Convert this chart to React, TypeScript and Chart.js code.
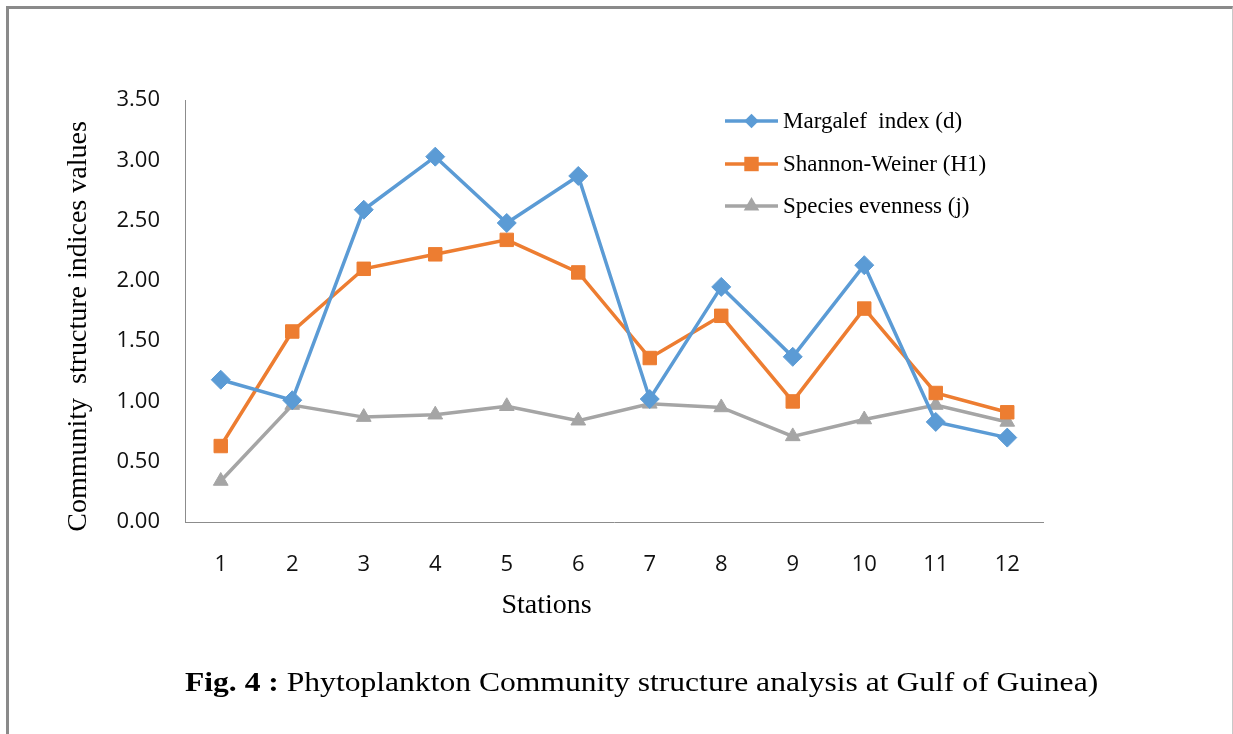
import React, { useEffect, useRef } from 'react';
import { Chart, registerables } from 'chart.js';

Chart.register(...registerables);

// ---- Data ----
const stations = ['1', '2', '3', '4', '5', '6', '7', '8', '9', '10', '11', '12'];
const margalef = [1.18, 1.01, 2.59, 3.03, 2.48, 2.87, 1.02, 1.95, 1.37, 2.13, 0.83, 0.70];
const shannon = [0.63, 1.58, 2.10, 2.22, 2.34, 2.07, 1.36, 1.71, 1.0, 1.77, 1.07, 0.91];
const evenness = [0.34, 0.97, 0.87, 0.89, 0.96, 0.84, 0.98, 0.95, 0.71, 0.85, 0.97, 0.83];
const seriesNames = ['Margalef  index (d)', 'Shannon-Weiner (H1)', 'Species evenness (j)'];
const yAxisTitle = 'Community  structure indices values';
const xAxisTitle = 'Stations';
const captionBold = 'Fig. 4 :';
const captionText = ' Phytoplankton Community structure analysis at Gulf of Guinea)';

const COLORS = ['#5B9BD5', '#ED7D31', '#A5A5A5'];
const STYLES = ['rectRot', 'rect', 'triangle'];
const RADII = [9.5, 9.5, 8.5];
const SERIF = '"Liberation Serif", "Times New Roman", serif';
const SANS = '"Open Sans", "Noto Sans", sans-serif';

function drawMarker(ctx: CanvasRenderingContext2D, style: string, x: number, y: number, r: number, color: string) {
  ctx.save();
  ctx.fillStyle = color;
  ctx.beginPath();
  if (style === 'rectRot') {
    const s = r * Math.SQRT1_2;
    ctx.moveTo(x - s - 0.5, y);
    ctx.lineTo(x, y - s - 0.5);
    ctx.lineTo(x + s + 0.5, y);
    ctx.lineTo(x, y + s + 0.5);
  } else if (style === 'rect') {
    const s = r * Math.SQRT1_2 + 0.5;
    ctx.rect(x - s, y - s, 2 * s, 2 * s);
  } else {
    const rr = r + 0.5;
    for (let k = 0; k < 3; k++) {
      const a = (k * 2 * Math.PI) / 3;
      const px = x + Math.sin(a) * rr;
      const py = y - Math.cos(a) * rr;
      if (k === 0) ctx.moveTo(px, py);
      else ctx.lineTo(px, py);
    }
  }
  ctx.closePath();
  ctx.fill();
  ctx.restore();
}

const overlayPlugin = {
  id: 'overlayPlugin',
  afterDraw(chart: any) {
    const ctx: CanvasRenderingContext2D = chart.ctx;
    // Legend inside plot area
    const rows = [121, 164, 206];
    chart.data.datasets.forEach((ds: any, i: number) => {
      const y = rows[i];
      ctx.save();
      ctx.strokeStyle = ds.borderColor;
      ctx.lineWidth = 3.5;
      ctx.beginPath();
      ctx.moveTo(725, y);
      ctx.lineTo(778, y);
      ctx.stroke();
      ctx.restore();
      drawMarker(ctx, STYLES[i], 751.5, y, RADII[i], ds.borderColor);
      ctx.save();
      ctx.fillStyle = '#000';
      ctx.font = `23px ${SERIF}`;
      ctx.textAlign = 'left';
      ctx.textBaseline = 'middle';
      ctx.fillText(ds.label, 783, y + 1);
      ctx.restore();
    });
    // Axis titles
    ctx.save();
    ctx.fillStyle = '#000';
    ctx.font = `28px ${SERIF}`;
    ctx.textAlign = 'center';
    ctx.textBaseline = 'middle';
    ctx.fillText(xAxisTitle, 546.5, 606);
    ctx.translate(79, 326.5);
    ctx.rotate(-Math.PI / 2);
    ctx.fillText(yAxisTitle, 0, 0);
    ctx.restore();
  },
};

export default function App() {
  const canvasRef = useRef<HTMLCanvasElement | null>(null);

  useEffect(() => {
    if (!canvasRef.current) return;
    const series = [margalef, shannon, evenness];
    const chart = new Chart(canvasRef.current, {
      type: 'line',
      data: {
        labels: stations,
        datasets: series.map((vals, i) => ({
          label: seriesNames[i],
          data: vals,
          borderColor: COLORS[i],
          backgroundColor: COLORS[i],
          borderWidth: 3.5,
          pointStyle: STYLES[i] as any,
          pointRadius: RADII[i],
          pointBackgroundColor: COLORS[i],
          pointBorderColor: COLORS[i],
          pointBorderWidth: 1,
          tension: 0,
          fill: false,
        })),
      },
      options: {
        responsive: false,
        animation: false,
        layout: { padding: { left: 100, top: 100, right: 190, bottom: 0 } },
        plugins: {
          legend: { display: false },
          tooltip: { enabled: false },
          title: { display: false },
        },
        scales: {
          x: {
            type: 'category',
            offset: true,
            grid: { display: false, drawTicks: false },
            border: { display: true, color: '#8c8c8c', width: 1 },
            ticks: { color: '#111', font: { family: SANS, size: 22 }, padding: 30, maxRotation: 0 },
            afterFit: (scale: any) => {
              scale.height = 212;
            },
          },
          y: {
            min: 0,
            max: 3.5,
            grid: { display: false, drawTicks: false },
            border: { display: true, color: '#8c8c8c', width: 1 },
            ticks: {
              stepSize: 0.5,
              color: '#111',
              font: { family: SANS, size: 22 },
              padding: 25,
              callback: (v: any) => Number(v).toFixed(2),
            },
            afterFit: (scale: any) => {
              scale.width = 85;
            },
          },
        },
      },
      plugins: [overlayPlugin],
    });
    return () => chart.destroy();
  }, []);

  return (
    <>
      <div
        style={{
          position: 'absolute',
          left: 6,
          top: 6,
          width: 1227,
          height: 728,
          boxSizing: 'border-box',
          borderLeft: '3px solid #8a8a8a',
          borderTop: '3px solid #8a8a8a',
          borderRight: '1px solid #c8c8c8',
          background: '#fff',
        }}
      />
      <canvas
        ref={canvasRef}
        width={1233}
        height={734}
        style={{ position: 'absolute', left: 0, top: 0, width: 1233, height: 734, display: 'block' }}
      />
      <div
        style={{
          position: 'absolute',
          left: 185,
          top: 668,
          whiteSpace: 'nowrap',
          fontFamily: SERIF,
          fontSize: 28,
          lineHeight: '28px',
          color: '#000',
          transform: 'scaleX(1.128)',
          transformOrigin: '0 50%',
        }}
      >
        <b>{captionBold}</b>
        {captionText}
      </div>
    </>
  );
}
